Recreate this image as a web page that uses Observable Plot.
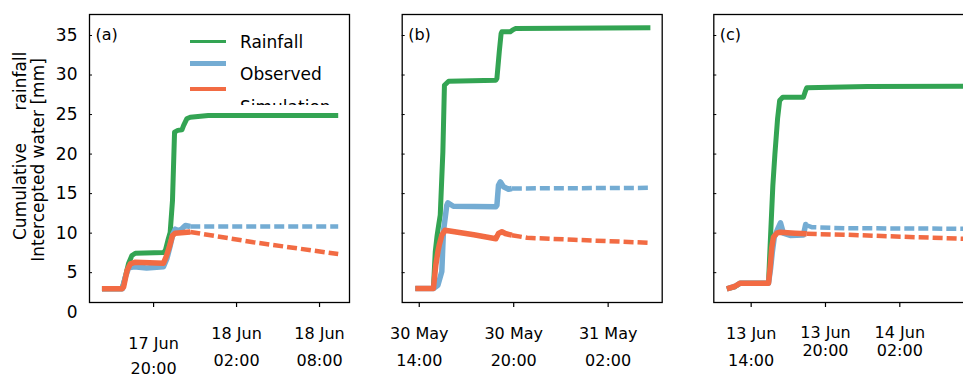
<!DOCTYPE html>
<html>
<head>
<meta charset="utf-8">
<script src="https://cdn.jsdelivr.net/npm/d3@7"></script>
<script src="https://cdn.jsdelivr.net/npm/@observablehq/plot@0.6"></script>
<style>
html, body { margin: 0; padding: 0; background: #fff; }
#wrap { position: relative; width: 963px; height: 374px; overflow: hidden; font-family: "DejaVu Sans", sans-serif; }
.panel { position: absolute; top: 0; height: 374px; }
.panel svg { max-width: none !important; display: block; }
#legend { position: absolute; left: 180px; top: 20px; width: 170px; height: 85px; overflow: hidden; }
#legend .sw { position: absolute; left: 10px; width: 36px; }
#legend .lb { position: absolute; left: 60px; height: 20px; line-height: 20px; font-size: 17px; color: #000; white-space: nowrap; }
</style>
</head>
<body>
<div id="wrap">
  <div class="panel" id="pa" style="left:0px;width:370px"></div>
  <div class="panel" id="pb" style="left:370px;width:320px"></div>
  <div class="panel" id="pc" style="left:690px;width:300px"></div>
  <div id="legend"></div>
</div>
<script>
// ---------- data (time, value in mm) ----------
const rainA = [
  ["2020-06-17T16:16", 2.96], ["2020-06-17T17:43", 2.96], ["2020-06-17T17:55", 4.2],
  ["2020-06-17T18:11", 6.12], ["2020-06-17T18:26", 7.17], ["2020-06-17T18:41", 7.46],
  ["2020-06-17T20:43", 7.55], ["2020-06-17T20:51", 7.8], ["2020-06-17T21:02", 9.07],
  ["2020-06-17T21:12", 10.1], ["2020-06-17T21:22", 14.1], ["2020-06-17T21:31", 22.77],
  ["2020-06-17T21:45", 23.0], ["2020-06-17T22:03", 23.07], ["2020-06-17T22:10", 23.6],
  ["2020-06-17T22:24", 24.46], ["2020-06-17T22:39", 24.66], ["2020-06-17T23:57", 24.88],
  ["2020-06-18T09:21", 24.88]
];
const obsA = [
  ["2020-06-17T16:16", 2.96], ["2020-06-17T17:45", 2.96], ["2020-06-17T17:57", 4.4],
  ["2020-06-17T18:12", 5.6], ["2020-06-17T18:35", 5.75], ["2020-06-17T19:30", 5.6],
  ["2020-06-17T20:43", 5.75], ["2020-06-17T20:58", 6.8], ["2020-06-17T21:12", 8.4],
  ["2020-06-17T21:24", 9.9], ["2020-06-17T21:34", 10.5], ["2020-06-17T21:50", 10.3],
  ["2020-06-17T22:03", 10.55], ["2020-06-17T22:18", 10.97], ["2020-06-17T22:39", 10.84],
  ["2020-06-18T09:21", 10.84]
];
const simA = [
  ["2020-06-17T16:16", 2.96], ["2020-06-17T17:43", 2.96], ["2020-06-17T17:50", 3.2],
  ["2020-06-17T18:05", 5.27], ["2020-06-17T18:19", 6.12], ["2020-06-17T18:41", 6.32],
  ["2020-06-17T20:43", 6.2], ["2020-06-17T20:54", 6.96], ["2020-06-17T21:08", 8.22],
  ["2020-06-17T21:22", 9.7], ["2020-06-17T21:34", 9.99], ["2020-06-17T22:39", 10.15],
  ["2020-06-18T03:13", 8.85], ["2020-06-18T09:21", 7.35]
];
const cutA = "2020-06-17T22:39";

const rainB = [
  ["2020-05-30T13:45", 3.0], ["2020-05-30T14:54", 3.0], ["2020-05-30T15:01", 7.64],
  ["2020-05-30T15:08", 9.7], ["2020-05-30T15:14", 11.0], ["2020-05-30T15:20", 12.27],
  ["2020-05-30T15:30", 20.29], ["2020-05-30T15:36", 28.71], ["2020-05-30T15:52", 29.22],
  ["2020-05-30T18:52", 29.35], ["2020-05-30T18:56", 29.56], ["2020-05-30T19:05", 32.94],
  ["2020-05-30T19:12", 35.25], ["2020-05-30T19:15", 35.47], ["2020-05-30T19:47", 35.47],
  ["2020-05-30T19:55", 35.67], ["2020-05-30T20:06", 35.88], ["2020-05-31T04:41", 35.97]
];
const obsB = [
  ["2020-05-30T13:45", 3.0], ["2020-05-30T14:54", 3.0], ["2020-05-30T15:11", 3.4],
  ["2020-05-30T15:26", 5.15], ["2020-05-30T15:32", 10.17], ["2020-05-30T15:45", 13.53],
  ["2020-05-30T15:49", 13.84], ["2020-05-30T16:10", 13.4], ["2020-05-30T18:52", 13.33],
  ["2020-05-30T18:56", 13.53], ["2020-05-30T19:02", 16.06], ["2020-05-30T19:09", 16.49],
  ["2020-05-30T19:21", 15.86], ["2020-05-30T19:40", 15.56], ["2020-05-30T19:53", 15.65],
  ["2020-05-31T04:41", 15.73]
];
const simB = [
  ["2020-05-30T13:45", 3.0], ["2020-05-30T14:54", 3.0], ["2020-05-30T15:03", 5.94],
  ["2020-05-30T15:11", 7.64], ["2020-05-30T15:16", 8.47], ["2020-05-30T15:26", 9.74],
  ["2020-05-30T15:38", 10.37], ["2020-05-30T17:28", 9.8], ["2020-05-30T18:52", 9.3],
  ["2020-05-30T19:02", 9.95], ["2020-05-30T19:15", 10.17], ["2020-05-30T19:28", 9.95],
  ["2020-05-30T19:53", 9.74], ["2020-05-30T20:51", 9.41], ["2020-05-30T23:49", 9.16],
  ["2020-05-31T04:41", 8.78]
];
const cutB = "2020-05-30T19:53";

const rainC = [
  ["2020-06-13T12:02", 2.96], ["2020-06-13T12:40", 3.2], ["2020-06-13T13:07", 3.67],
  ["2020-06-13T15:24", 3.67], ["2020-06-13T15:32", 8.5], ["2020-06-13T15:45", 16.0],
  ["2020-06-13T15:55", 20.0], ["2020-06-13T16:08", 24.5], ["2020-06-13T16:18", 26.78],
  ["2020-06-13T16:33", 27.19], ["2020-06-13T18:13", 27.19], ["2020-06-13T18:21", 27.83],
  ["2020-06-13T18:29", 28.38], ["2020-06-13T23:22", 28.55], ["2020-06-14T07:56", 28.6]
];
const obsC = [
  ["2020-06-13T12:02", 2.96], ["2020-06-13T12:40", 3.25], ["2020-06-13T13:07", 3.67],
  ["2020-06-13T15:24", 3.67], ["2020-06-13T15:34", 5.5], ["2020-06-13T15:42", 7.5],
  ["2020-06-13T15:52", 9.5], ["2020-06-13T16:10", 10.6], ["2020-06-13T16:22", 11.3],
  ["2020-06-13T16:36", 10.0], ["2020-06-13T17:09", 9.7], ["2020-06-13T18:13", 9.75],
  ["2020-06-13T18:24", 11.09], ["2020-06-13T18:29", 11.0], ["2020-06-13T18:53", 10.75],
  ["2020-06-13T21:43", 10.62], ["2020-06-14T07:56", 10.55]
];
const simC = [
  ["2020-06-13T12:02", 2.96], ["2020-06-13T12:40", 3.25], ["2020-06-13T13:07", 3.67],
  ["2020-06-13T15:24", 3.67], ["2020-06-13T15:32", 5.69], ["2020-06-13T15:40", 8.22],
  ["2020-06-13T15:48", 9.49], ["2020-06-13T16:04", 9.99], ["2020-06-13T16:20", 10.12],
  ["2020-06-13T17:33", 9.99], ["2020-06-13T18:29", 9.92], ["2020-06-13T21:43", 9.79],
  ["2020-06-14T07:56", 9.24]
];
const cutC = "2020-06-13T18:29";

// ---------- axes ----------
const yTicks = [0, 5, 10, 15, 20, 25, 30, 35];
const xTicksA = ["2020-06-17T20:00", "2020-06-18T02:00", "2020-06-18T08:00"];
const xTicksB = ["2020-05-30T14:00", "2020-05-30T20:00", "2020-05-31T02:00"];
const xTicksC = ["2020-06-13T14:00", "2020-06-13T20:00", "2020-06-14T02:00"];
const xDomainA = ["2020-06-17T15:22", "2020-06-18T10:10"];
const xDomainB = ["2020-05-30T12:55", "2020-05-31T05:26"];
const xDomainC = ["2020-06-13T10:59", "2020-06-14T07:57"];
const seriesNames = ["Rainfall", "Observed", "Simulation"];
const panelTags = ["(a)", "(b)", "(c)"];

const GREEN = "#33a453", BLUE = "#74acd3", ORANGE = "#f26b43";
const T = s => new Date(s + ":00Z");
const fmt = d3.utcFormat("%-d %b\n%H:%M");

function panel({rain, obs, sim, cut, domain, ticks, special, width, ml, mr, tag, yLabels}) {
  const solid = a => a.filter(d => d[0] <= cut);
  const dashed = a => a.filter(d => d[0] >= cut);
  const lo = (c, w, dash) => ({x: d => T(d[0]), y: d => d[1], stroke: c, strokeWidth: w,
    strokeLinejoin: "round", strokeLinecap: "butt", strokeDasharray: dash});
  const tickDates = ticks.map(T);
  const specialSet = new Set((special ? special.ticks : []).map(s => +T(s)));
  const marks = [
    Plot.frame({stroke: "#000", strokeWidth: 1.3}),
    Plot.axisX(tickDates, {tickSize: 5, tickPadding: 12.6, strokeWidth: 1.2, fontSize: 16, lineHeight: 1.69,
      tickFormat: d => specialSet.has(+d) ? "" : fmt(d), label: null}),
  ];
  if (special) {
    marks.push(Plot.axisX(special.ticks.map(T), {tickSize: 0, tickPadding: special.pad, fontSize: 16,
      lineHeight: special.lh, tickFormat: fmt, label: null}));
  }
  if (yLabels) {
    marks.push(Plot.axisY(yTicks, {tickSize: 0, tickPadding: 12, fontSize: 17, label: null}));
  }
  marks.push(Plot.axisY(yTicks.filter(v => v > 0), {tickSize: -3, strokeWidth: 1, tickFormat: () => "", label: null}));
  marks.push(
    Plot.line(rain, lo(GREEN, 5)),
    Plot.line(solid(obs), lo(BLUE, 5.5)),
    Plot.line(dashed(obs), lo(BLUE, 4.5, "10,4")),
    Plot.line(solid(sim), lo(ORANGE, 5.5)),
    Plot.line(dashed(sim), lo(ORANGE, 4.5, "10,4")),
    Plot.text([tag], {frameAnchor: "top-left", dx: 6, dy: 20, fontSize: 16, textAnchor: "start", lineAnchor: "middle", fill: "#000"})
  );
  return Plot.plot({
    width, height: 374, marginLeft: ml, marginRight: mr, marginTop: 14, marginBottom: 72,
    style: {fontFamily: "DejaVu Sans", fontSize: "16px", color: "#000", background: "transparent", overflow: "visible", maxWidth: "none"},
    x: {type: "utc", domain: domain.map(T)},
    y: {domain: [0, 35], range: [311.7, 35]},
    marks
  });
}

const svgA = panel({rain: rainA, obs: obsA, sim: simA, cut: cutA, domain: xDomainA, ticks: xTicksA,
  special: {ticks: [xTicksA[0]], pad: 29.1, lh: 1.56}, width: 370, ml: 89, mr: 21, tag: panelTags[0], yLabels: true});
const svgB = panel({rain: rainB, obs: obsB, sim: simB, cut: cutB, domain: xDomainB, ticks: xTicksB,
  special: null, width: 320, ml: 31.7, mr: 28.3, tag: panelTags[1], yLabels: false});
const svgC = panel({rain: rainC, obs: obsC, sim: simC, cut: cutC, domain: xDomainC, ticks: xTicksC,
  special: {ticks: [xTicksC[1], xTicksC[2]], pad: 22.2, lh: 1.15}, width: 300, ml: 23.3, mr: 17, tag: panelTags[2], yLabels: false});

document.getElementById("pa").appendChild(svgA);
document.getElementById("pb").appendChild(svgB);
document.getElementById("pc").appendChild(svgC);

// y-axis title (two lines, rotated)
const yTitle = [
  {text: "Cumulative", x: 20, y: 191.5},
  {text: "rainfall", x: 20, y: 81},
  {text: "Intercepted water [mm]", x: 38, y: 160}
];
d3.select(svgA).selectAll("text.ytitle").data(yTitle).join("text")
  .attr("class", "ytitle")
  .attr("transform", d => `translate(${d.x},${d.y}) rotate(-90)`)
  .attr("text-anchor", "middle").attr("dy", "0.35em")
  .attr("font-family", "DejaVu Sans").attr("font-size", 17).attr("fill", "#000")
  .text(d => d.text);

// legend (clipped at the bottom like the reference)
const legendItems = [
  {name: seriesNames[0], color: GREEN, top: 20.3, h: 3, ty: 41.7},
  {name: seriesNames[1], color: BLUE, top: 41, h: 4.7, ty: 74.3},
  {name: seriesNames[2], color: ORANGE, top: 66.7, h: 4.7, ty: 106.5}
];
const lg = d3.select("#legend");
legendItems.forEach(it => {
  lg.append("div").attr("class", "sw").style("top", it.top + "px").style("height", it.h + "px").style("background", it.color);
  lg.append("div").attr("class", "lb").style("top", (it.ty - 20 - 10) + "px").text(it.name);
});
</script>
</body>
</html>
